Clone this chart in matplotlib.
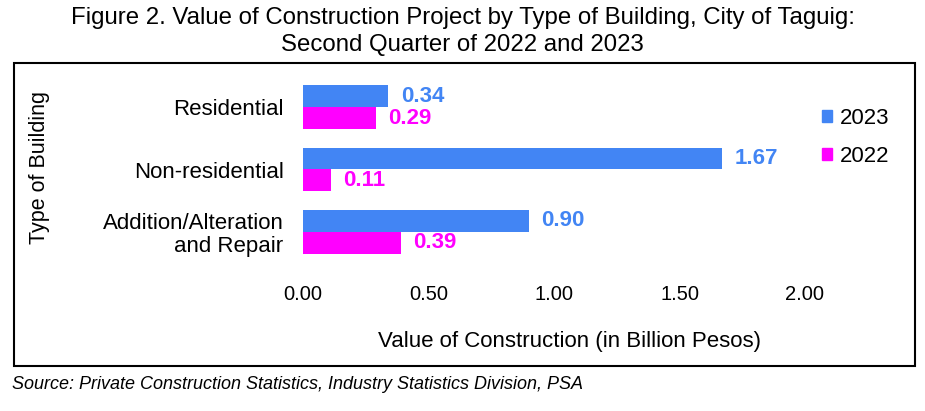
import matplotlib
matplotlib.use("Agg")
import matplotlib.pyplot as plt
from matplotlib.patches import Rectangle
import numpy as np

plt.rcParams['font.family'] = ['Liberation Sans', 'DejaVu Sans']

categories = ["Residential", "Non-residential", "Addition/Alteration\nand Repair"]
values_2023 = [0.34, 1.67, 0.90]
values_2022 = [0.29, 0.11, 0.39]
series_names = ["2023", "2022"]
xticks = [0.0, 0.5, 1.0, 1.5, 2.0]

c2023 = "#4285F4"
c2022 = "#FF00FF"

W, H = 925, 411
fig = plt.figure(figsize=(W/100, H/100), dpi=100)

def fx(px):
    return px / W

def fy(py):
    return 1 - py / H

ax = fig.add_axes([fx(303), fy(263), fx(805) - fx(303), fy(76) - fy(263)])

y = np.arange(len(categories))
h = 0.35
b1 = ax.barh(y - h/2, values_2023, height=h, color=c2023, label=series_names[0])
b2 = ax.barh(y + h/2, values_2022, height=h, color=c2022, label=series_names[1])
for bars, vals, col in ((b1, values_2023, c2023), (b2, values_2022, c2022)):
    for rect, v in zip(bars, vals):
        ax.text(v + 0.05, rect.get_y() + rect.get_height()/2, f"{v:.2f}",
                va="center", ha="left", color=col, fontsize=16, fontweight="bold")

ax.set_xlim(0, 2.0)
ax.set_ylim(2.5, -0.5)
ax.set_xticks(xticks)
ax.set_xticklabels([f"{t:.2f}" for t in xticks], fontsize=14.5)
ax.set_yticks(y)
ax.set_yticklabels(categories, fontsize=16, linespacing=1.1)
ax.tick_params(axis="both", length=0)
ax.tick_params(axis="x", pad=16)
ax.tick_params(axis="y", pad=14)
for s in ax.spines.values():
    s.set_visible(False)

fig.text(fx(570), fy(341), "Value of Construction (in Billion Pesos)", ha="center", va="center", fontsize=16)
fig.text(fx(40), fy(167), "Type of Building", rotation=90, ha="center", va="center", fontsize=15.5)

handles = [Rectangle((0, 0), 1, 1, color=c2023), Rectangle((0, 0), 1, 1, color=c2022)]
fig.legend(handles, series_names, loc="upper left", bbox_to_anchor=(fx(802), fy(88)),
           frameon=False, fontsize=16, handlelength=0.45, handleheight=0.45,
           handletextpad=0.35, labelspacing=0.75)

fig.text(0.5, fy(18), "Figure 2. Value of Construction Project by Type of Building, City of Taguig:",
         ha="center", va="center", fontsize=17.3)
fig.text(0.5, fy(45), "Second Quarter of 2022 and 2023", ha="center", va="center", fontsize=17.3)

fig.patches.append(Rectangle((fx(14), fy(366)), fx(915) - fx(14), fy(63) - fy(366),
                             transform=fig.transFigure, fill=False, edgecolor="black", linewidth=1.5))

fig.text(fx(12), fy(384), "Source: Private Construction Statistics, Industry Statistics Division, PSA",
         ha="left", va="center", fontsize=13, style="italic")

fig.savefig("out.png", dpi=100)
